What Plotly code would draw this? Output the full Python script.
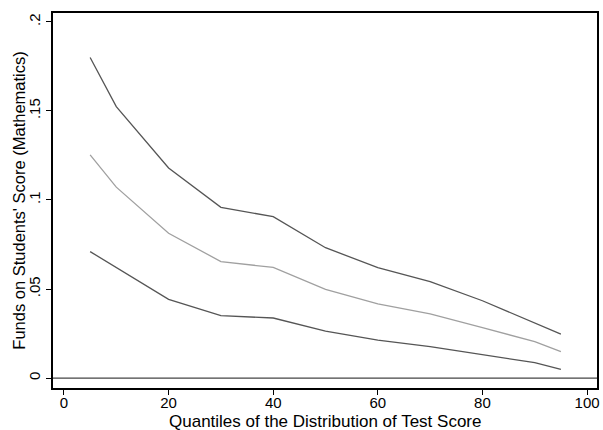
import plotly.graph_objects as go

quantiles = [5, 10, 20, 30, 40, 50, 60, 70, 80, 90, 95]
upper = [0.180, 0.1524, 0.118, 0.0959, 0.0906, 0.0732, 0.0620, 0.0541, 0.0434, 0.0307, 0.0247]
middle = [0.1253, 0.1072, 0.0813, 0.0654, 0.0621, 0.0498, 0.0416, 0.0360, 0.0283, 0.0204, 0.0148]
lower = [0.0710, 0.0622, 0.0442, 0.0350, 0.0337, 0.0264, 0.0213, 0.0176, 0.0129, 0.0086, 0.0049]

x_ticks = [0, 20, 40, 60, 80, 100]
y_ticks = [0, 0.05, 0.1, 0.15, 0.2]
y_tick_labels = ["0", ".05", ".1", ".15", ".2"]
x_title = "Quantiles of the Distribution of Test Score"
y_title = "Funds on Students' Score (Mathematics)"

fig = go.Figure()
fig.add_trace(go.Scatter(x=quantiles, y=upper, mode="lines",
                         line=dict(color="#555555", width=1.3), showlegend=False))
fig.add_trace(go.Scatter(x=quantiles, y=middle, mode="lines",
                         line=dict(color="#a0a0a0", width=1.3), showlegend=False))
fig.add_trace(go.Scatter(x=quantiles, y=lower, mode="lines",
                         line=dict(color="#555555", width=1.3), showlegend=False))

fig.add_shape(type="line", xref="paper", x0=0, x1=1, yref="y", y0=0, y1=0,
              line=dict(color="#444444", width=1.3))

fig.add_annotation(text=x_title, xref="paper", yref="paper", x=0.5, y=-0.09,
                   xanchor="center", yanchor="middle", showarrow=False,
                   font=dict(size=17))
fig.add_annotation(text=y_title, xref="paper", yref="paper", x=-0.064, y=0.5,
                   xanchor="center", yanchor="middle", showarrow=False,
                   textangle=-90, font=dict(size=16.5))

font = "Liberation Sans, Arial, sans-serif"
fig.update_layout(
    width=603, height=430,
    margin=dict(l=53, r=6, t=13, b=42),
    paper_bgcolor="white", plot_bgcolor="white",
    font=dict(family=font, color="black", size=15),
    xaxis=dict(range=[-2.1, 101.9], tickvals=x_ticks, ticks="outside", ticklen=5,
               tickcolor="black", tickwidth=1, showgrid=False, zeroline=False,
               showline=True, linecolor="black", linewidth=1.5, mirror=True,
               tickfont=dict(size=15), automargin=False, ticklabelstandoff=-5),
    yaxis=dict(range=[-0.0056, 0.205], tickvals=y_ticks, ticktext=y_tick_labels,
               ticks="outside", ticklen=5, tickcolor="black", tickwidth=1,
               tickangle=-90, showgrid=False, zeroline=False,
               showline=True, linecolor="black", linewidth=1.5, mirror=True,
               tickfont=dict(size=15), automargin=False),
)

fig.write_html("out.html", config={"displayModeBar": False},
               post_script="document.body.style.margin='0';document.body.style.padding='0';")
